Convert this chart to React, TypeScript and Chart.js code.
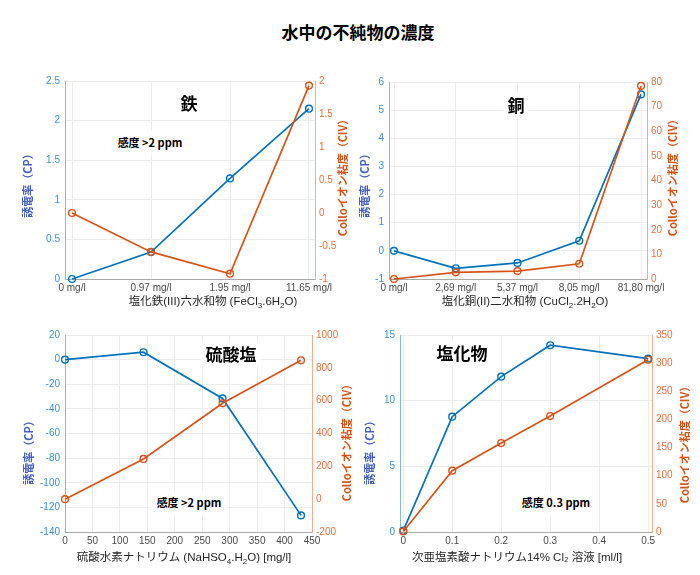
import React, { useEffect, useRef } from "react";
import { Chart, registerables } from "chart.js";
Chart.register(...registerables);

const BLUE = "#0072BD";
const ORANGE = "#D95319";
const GRID = "#ececec";
const BLUE_TICK = "#3a90d2";
const ORANGE_TICK = "#e3713f";
const LATIN = "'Liberation Sans', 'Noto Sans CJK JP', sans-serif";
const CJK = "'Noto Sans CJK JP', 'Liberation Sans', sans-serif";

// ---- Data ----
const feLabels = ["0 mg/l", "0.97 mg/l", "1.95 mg/l", "11.65 mg/l"];
const feX = [0, 1, 2, 3];
const feCP = [0, 0.34, 1.27, 2.15];
const feCIV = [0, -0.59, -0.92, 1.93];

const cuLabels = ["0 mg/l", "2,69 mg/l", "5,37 mg/l", "8,05 mg/l", "81,80 mg/l"];
const cuX = [0, 1, 2, 3, 4];
const cuCP = [0, -0.62, -0.43, 0.36, 5.56];
const cuCIV = [0, 2.7, 3.2, 6.2, 78.4];

const so4X = [0, 143, 287, 430];
const so4Ticks = [0, 50, 100, 150, 200, 250, 300, 350, 400, 450];
const so4CP = [0, 6, -31.5, -126.5];
const so4CIV = [0, 245, 584, 846];

const clX = [0, 0.1, 0.2, 0.3, 0.5];
const clTicks = [0, 0.1, 0.2, 0.3, 0.4, 0.5];
const clCP = [0.1, 8.78, 11.83, 14.22, 13.2];
const clCIV = [1, 109, 158, 206, 306];

type Spec = {
  left: number; top: number; w: number; h: number;
  xMin: number; xMax: number; xTicks: number[]; xFmt: (v: number) => string;
  xs: number[]; cp: number[]; civ: number[];
  yl: [number, number, number]; yr: [number, number, number];
};

const fmt = (v: number) => String(Number(Number(v).toFixed(6)));

const specs: Spec[] = [
  {
    left: 65, top: 80.5, w: 250, h: 198.5,
    xMin: -0.089, xMax: 3.076, xTicks: feX, xFmt: (v) => feLabels[Math.round(v)] ?? "",
    xs: feX, cp: feCP, civ: feCIV, yl: [0, 2.5, 0.5], yr: [-1, 2, 0.5],
  },
  {
    left: 389, top: 82, w: 258, h: 197,
    xMin: -0.081, xMax: 4.097, xTicks: cuX, xFmt: (v) => cuLabels[Math.round(v)] ?? "",
    xs: cuX, cp: cuCP, civ: cuCIV, yl: [-1, 6, 1], yr: [0, 80, 10],
  },
  {
    left: 64.5, top: 335, w: 247, h: 197,
    xMin: 0, xMax: 450, xTicks: so4Ticks, xFmt: fmt,
    xs: so4X, cp: so4CP, civ: so4CIV, yl: [-140, 20, 20], yr: [-200, 1000, 200],
  },
  {
    left: 400, top: 335, w: 252, h: 197,
    xMin: -0.0067, xMax: 0.508, xTicks: clTicks, xFmt: fmt,
    xs: clX, cp: clCP, civ: clCIV, yl: [0, 15, 5], yr: [0, 350, 50],
  },
];

const PL = 50, PR = 50, PT = 12, PB = 24;

function SubChart({ spec }: { spec: Spec }) {
  const ref = useRef<HTMLCanvasElement>(null);
  useEffect(() => {
    const ds = (ys: number[], color: string, axis: string) => ({
      data: spec.xs.map((x, i) => ({ x, y: ys[i] })),
      yAxisID: axis,
      borderColor: color,
      borderWidth: 1.7,
      pointRadius: 3.4,
      pointBorderWidth: 1.4,
      pointBorderColor: color,
      pointBackgroundColor: "rgba(255,255,255,0)",
      pointStyle: "circle",
      fill: false,
      tension: 0,
      clip: false as any,
    });
    const chart = new Chart(ref.current!, {
      type: "line",
      data: {
        datasets: [ds(spec.civ, ORANGE, "yR"), ds(spec.cp, BLUE, "yL")] as any,
      },
      options: {
        animation: false,
        responsive: false,
        maintainAspectRatio: false,
        layout: { padding: { top: PT, left: 0, right: 0, bottom: 0 } },
        plugins: { legend: { display: false }, tooltip: { enabled: false } },
        scales: {
          x: {
            type: "linear",
            min: spec.xMin,
            max: spec.xMax,
            afterBuildTicks: (s: any) => {
              s.ticks = spec.xTicks.map((v) => ({ value: v }));
            },
            afterFit: (s: any) => { s.height = PB; },
            ticks: {
              callback: (v: any) => spec.xFmt(Number(v)),
              color: "#4a4a4a",
              font: { family: LATIN, size: 10 },
              padding: 3,
              maxRotation: 0,
              autoSkip: false,
            },
            grid: { color: GRID, drawTicks: false },
            border: { color: "#a8a8a8" },
          },
          yL: {
            type: "linear",
            position: "left",
            min: spec.yl[0],
            max: spec.yl[1],
            afterFit: (s: any) => { s.width = PL; },
            ticks: {
              stepSize: spec.yl[2],
              callback: (v: any) => fmt(Number(v)),
              color: BLUE_TICK,
              font: { family: LATIN, size: 10 },
              padding: 5,
            },
            grid: { color: GRID, drawTicks: false },
            border: { color: "#86b8e0" },
          },
          yR: {
            type: "linear",
            position: "right",
            min: spec.yr[0],
            max: spec.yr[1],
            afterFit: (s: any) => { s.width = PR; },
            ticks: {
              stepSize: spec.yr[2],
              callback: (v: any) => fmt(Number(v)),
              color: ORANGE_TICK,
              font: { family: LATIN, size: 10 },
              padding: 4,
            },
            grid: { drawOnChartArea: false, drawTicks: false },
            border: { color: "#f2ad90" },
          },
        },
      } as any,
    });
    return () => chart.destroy();
  }, []);
  const W = spec.w + PL + PR;
  const H = spec.h + PT + PB;
  return (
    <canvas
      ref={ref}
      width={W}
      height={H}
      style={{ position: "absolute", left: spec.left - PL, top: spec.top - PT, width: W, height: H }}
    />
  );
}

function Txt({ x, y, children, style, rot }: any) {
  return (
    <div
      style={{
        position: "absolute",
        left: x,
        top: y,
        transform: `translate(-50%, -50%)${rot ? " rotate(-90deg)" : ""}`,
        whiteSpace: "nowrap",
        lineHeight: 1.2,
        ...style,
      }}
    >
      {children}
    </div>
  );
}

const Sub = ({ c }: { c: string }) => (
  <span style={{ fontSize: "8px", position: "relative", top: 3 }}>{c}</span>
);

const yLeftStyle = { fontFamily: CJK, fontSize: 11, fontWeight: 700, color: "#4560c2" };
const yRightStyle = { fontFamily: CJK, fontSize: 11, fontWeight: 700, color: ORANGE };
const xTitleStyle = { fontFamily: LATIN, fontSize: 11.5, color: "#262626" };
const bigStyle = { fontFamily: CJK, fontSize: 17, fontWeight: 700, color: "#000", background: "#fff", padding: "2px 4px" };
const noteStyle = { fontFamily: CJK, fontSize: 11, fontWeight: 700, color: "#000", background: "#fff", padding: "6px 6px" };

export default function App() {
  return (
    <div style={{ position: "absolute", left: 0, top: 0, width: 700, height: 575, background: "#fff", overflow: "hidden" }}>
      {specs.map((s, i) => (
        <SubChart key={i} spec={s} />
      ))}
      <Txt x={358} y={32} style={{ fontFamily: CJK, fontSize: 17, fontWeight: 700, color: "#000" }}>
        水中の不純物の濃度
      </Txt>

      {/* top-left */}
      <Txt x={28} y={183} rot style={yLeftStyle}>誘電率（CP）</Txt>
      <Txt x={343} y={175} rot style={yRightStyle}>Colloイオン粘度（CIV）</Txt>
      <Txt x={213} y={302} style={xTitleStyle}>
        塩化鉄(III)六水和物 (FeCl<Sub c="3" />.6H<Sub c="2" />O)
      </Txt>
      <Txt x={189} y={103} style={bigStyle}>鉄</Txt>
      <Txt x={150} y={143} style={noteStyle}>感度 &gt;2 ppm</Txt>

      {/* top-right */}
      <Txt x={365} y={183} rot style={yLeftStyle}>誘電率（CP）</Txt>
      <Txt x={673} y={175} rot style={yRightStyle}>Colloイオン粘度（CIV）</Txt>
      <Txt x={525} y={302} style={xTitleStyle}>
        塩化銅(II)二水和物 (CuCl<Sub c="2" />.2H<Sub c="2" />O)
      </Txt>
      <Txt x={516} y={105} style={bigStyle}>銅</Txt>

      {/* bottom-left */}
      <Txt x={29} y={450} rot style={yLeftStyle}>誘電率（CP）</Txt>
      <Txt x={347} y={440} rot style={yRightStyle}>Colloイオン粘度（CIV）</Txt>
      <Txt x={184} y={558} style={xTitleStyle}>
        硫酸水素ナトリウム  (NaHSO<Sub c="4" />.H<Sub c="2" />O) [mg/l]
      </Txt>
      <Txt x={231} y={354} style={bigStyle}>硫酸塩</Txt>
      <Txt x={189} y={503} style={noteStyle}>感度 &gt;2 ppm</Txt>

      {/* bottom-right */}
      <Txt x={370} y={450} rot style={yLeftStyle}>誘電率（CP）</Txt>
      <Txt x={685} y={442} rot style={yRightStyle}>Colloイオン粘度（CIV）</Txt>
      <Txt x={517} y={558} style={xTitleStyle}>
        次亜塩素酸ナトリウム14% Cl₂ 溶液 [ml/l]
      </Txt>
      <Txt x={462} y={353} style={bigStyle}>塩化物</Txt>
      <Txt x={556} y={503} style={noteStyle}>感度 0.3 ppm</Txt>
    </div>
  );
}
